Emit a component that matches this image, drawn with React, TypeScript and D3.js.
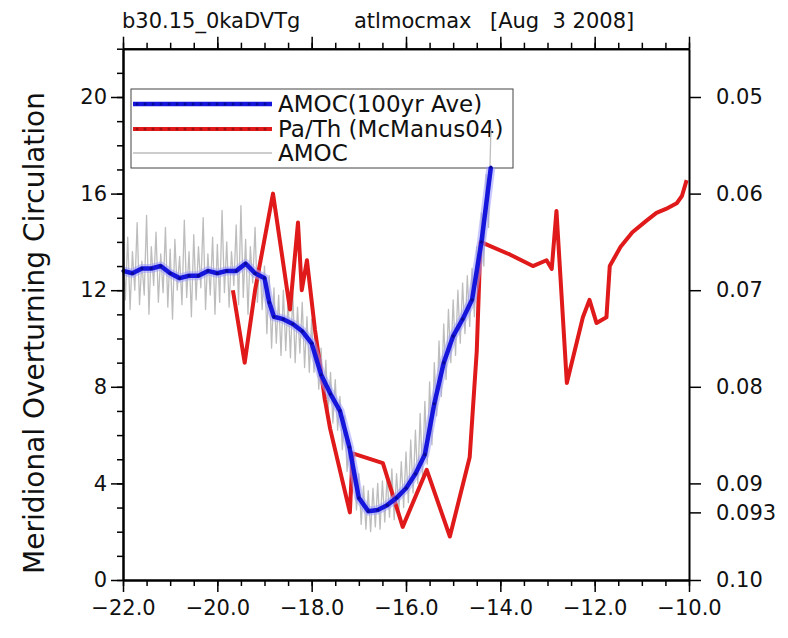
import { useEffect, useRef } from 'react';
import * as d3 from 'd3';

// Chart header
const titleParts = ['b30.15_0kaDVTg', 'atlmocmax', '[Aug  3 2008]'];
const yLabel = 'Meridional Overturning Circulation';

// Axis ticks
const xMajorTicks = [-22, -20, -18, -16, -14, -12, -10];
const xMinorTicks = d3.range(-22, -9.99, 0.5);
const leftMajorTicks = [0, 4, 8, 12, 16, 20];
const leftMinorTicks = d3.range(0, 22.01, 1);
const rightTicks = [0.05, 0.06, 0.07, 0.08, 0.09, 0.093, 0.1];
const rightTickLabels = ['0.05', '0.06', '0.07', '0.08', '0.09', '0.093', '0.10'];

// AMOC, 100yr average (ka BP, Sv)
const blueTime = [
  -22.0, -21.8, -21.6, -21.4, -21.2, -21.0, -20.8, -20.6, -20.4, -20.2,
  -20.0, -19.8, -19.6, -19.4, -19.2, -19.0, -18.9, -18.8, -18.6, -18.4,
  -18.2, -18.0, -17.8, -17.6, -17.4, -17.2, -17.0, -16.8, -16.6, -16.4,
  -16.2, -16.0, -15.8, -15.6, -15.4, -15.2, -15.0, -14.8, -14.6, -14.4, -14.2,
];
const blueAmoc = [
  12.8, 12.7, 12.9, 12.9, 13.0, 12.7, 12.5, 12.6, 12.6, 12.8,
  12.7, 12.8, 12.8, 13.1, 12.7, 12.5, 11.5, 10.9, 10.8, 10.6,
  10.3, 9.8, 8.5, 7.7, 7.0, 5.5, 3.4, 2.85, 2.9, 3.1,
  3.4, 3.8, 4.4, 5.2, 7.3, 9.0, 10.1, 10.8, 11.6, 14.0, 17.1,
];

// Pa/Th (McManus04), right axis
const redTime = [
  -19.67, -19.42, -19.2, -18.82, -18.46, -18.29, -18.21, -18.1, -17.93, -17.72,
  -17.61, -17.19, -17.13, -16.49, -16.07, -15.56, -15.07, -14.65, -14.5, -14.42,
  -13.8, -13.31, -13.02, -12.91, -12.81, -12.59, -12.25, -12.11, -11.96, -11.75,
  -11.68, -11.45, -11.2, -10.9, -10.69, -10.45, -10.26, -10.15, -10.05,
];
const redPaTh = [
  0.07, 0.0775, 0.07, 0.06, 0.072, 0.063, 0.07, 0.0669, 0.0741, 0.0813,
  0.0843, 0.093, 0.0869, 0.0879, 0.0945, 0.0886, 0.0955, 0.0873, 0.0763, 0.065,
  0.0663, 0.0675, 0.0669, 0.0678, 0.0618, 0.0796, 0.0728, 0.071, 0.0734, 0.0728,
  0.0675, 0.0655, 0.064, 0.0628, 0.062, 0.0615, 0.061, 0.06025, 0.0586,
];

// AMOC, annual (gray), every 0.05 ka from -22.0
const amocStart = -22;
const amocStep = 0.05;
const amocAnnual = [
  13.9, 11.6, 14.2, 11.2, 13.6, 12.0, 14.8, 11.4, 13.2, 11.8,
  15.1, 11.0, 13.8, 12.2, 14.4, 11.5, 13.5, 11.9, 14.6, 11.3,
  13.7, 10.8, 14.1, 12.0, 13.4, 11.4, 14.9, 11.7, 13.6, 10.9,
  14.3, 11.6, 13.8, 12.1, 15.0, 11.2, 13.5, 11.8, 14.2, 11.0,
  13.9, 11.5, 15.3, 11.9, 14.0, 11.3, 13.6, 12.2, 14.7, 11.4,
  15.5, 11.7, 14.1, 11.0, 13.8, 12.3, 14.6, 11.5, 13.4, 11.2,
  13.0, 10.2, 12.6, 9.6, 12.1, 9.8, 11.8, 9.3, 12.0, 9.5,
  11.6, 9.2, 11.9, 9.0, 11.3, 9.4, 11.5, 8.8, 10.9, 8.6,
  10.8, 8.6, 10.2, 7.9, 9.6, 7.4, 9.1, 7.0, 8.6, 6.5,
  8.3, 6.2, 7.6, 5.4, 6.8, 4.5, 5.6, 3.6, 4.7, 2.9,
  4.4, 2.3, 3.9, 2.1, 3.7, 2.0, 3.8, 2.2, 4.0, 2.1,
  4.1, 2.4, 4.3, 2.6, 4.6, 2.5, 4.4, 2.9, 4.9, 3.0,
  5.3, 3.2, 5.8, 3.6, 6.2, 4.0, 6.9, 4.3, 7.4, 4.8,
  8.2, 5.6, 9.0, 6.8, 9.9, 7.6, 10.6, 8.3, 11.2, 9.0,
  11.6, 9.3, 12.0, 9.8, 12.3, 10.2, 12.6, 10.5, 12.9, 10.9,
  13.8, 11.8, 15.2, 13.0, 16.8, 14.6, 18.7,
];

const legendItems = ['AMOC(100yr Ave)', 'Pa/Th (McManus04)', 'AMOC'];

const BLUE = '#1515dc';
const RED = '#e01a1a';
const GRAY = '#bdbdbd';
const FONT = '"DejaVu Sans", sans-serif';

export default function App() {
  const svgRef = useRef<SVGSVGElement | null>(null);

  useEffect(() => {
    if (!svgRef.current) return;
    const svg = d3.select(svgRef.current);
    svg.selectAll('*').remove();

    const plot = { left: 123, right: 689, top: 48.7, bottom: 580 };

    const x = d3.scaleLinear().domain([-22, -10]).range([plot.left, plot.right]);
    const y = d3.scaleLinear().domain([0, 22]).range([plot.bottom, plot.top]);
    const yR = d3.scaleLinear().domain([0.1, 0.045]).range([plot.bottom, plot.top]);

    svg.append('rect').attr('width', 788).attr('height', 638).attr('fill', '#fff');

    // Legend (drawn first, the curves pass over it)
    const lg = svg.append('g');
    lg.append('rect')
      .attr('x', 131).attr('y', 89).attr('width', 382).attr('height', 79)
      .attr('fill', 'none').attr('stroke', '#444').attr('stroke-width', 1);
    const rowY = [104, 129, 153];
    const legendColors = [BLUE, RED, GRAY];
    const legendWidths = [4.5, 4, 1.3];
    legendItems.forEach((label, i) => {
      lg.append('line')
        .attr('x1', 133).attr('x2', 272)
        .attr('y1', rowY[i]).attr('y2', rowY[i])
        .attr('stroke', legendColors[i])
        .attr('stroke-width', legendWidths[i]);
      if (i < 2) {
        lg.selectAll(`circle.b${i}`)
          .data(d3.range(137, 272, 8))
          .enter()
          .append('circle')
          .attr('class', `b${i}`)
          .attr('cx', d => d)
          .attr('cy', rowY[i])
          .attr('r', 1.5)
          .attr('fill', i === 0 ? '#0a0a9a' : '#a01010');
      }
      lg.append('text')
        .attr('x', 278)
        .attr('y', rowY[i] + 8)
        .style('font-family', FONT)
        .style('font-size', '23px')
        .attr('fill', '#111')
        .text(label);
    });

    // Gray annual AMOC
    const line = d3.line<[number, number]>().x(d => d[0]).y(d => d[1]);
    const grayPts: [number, number][] = amocAnnual.map((v, i) => [x(amocStart + i * amocStep), y(v)]);
    svg.append('path')
      .attr('d', line(grayPts))
      .attr('fill', 'none')
      .attr('stroke', GRAY)
      .attr('stroke-width', 1.3)
      .attr('stroke-linejoin', 'round');

    // Pa/Th
    const redPts: [number, number][] = redTime.map((t, i) => [x(t), yR(redPaTh[i])]);
    svg.append('path')
      .attr('d', line(redPts))
      .attr('fill', 'none')
      .attr('stroke', RED)
      .attr('stroke-width', 4)
      .attr('stroke-linejoin', 'round');

    // AMOC 100yr ave, with light halo
    const bluePts: [number, number][] = blueTime.map((t, i) => [x(t), y(blueAmoc[i])]);
    svg.append('path')
      .attr('d', line(bluePts))
      .attr('fill', 'none')
      .attr('stroke', '#9a9aff')
      .attr('stroke-opacity', 0.55)
      .attr('stroke-width', 9)
      .attr('stroke-linejoin', 'round');
    svg.append('path')
      .attr('d', line(bluePts))
      .attr('fill', 'none')
      .attr('stroke', BLUE)
      .attr('stroke-width', 4.5)
      .attr('stroke-linejoin', 'round');
    svg.append('g')
      .selectAll('circle')
      .data(bluePts)
      .enter()
      .append('circle')
      .attr('cx', d => d[0])
      .attr('cy', d => d[1])
      .attr('r', 1.6)
      .attr('fill', '#0a0a9a');

    // Axes
    const styleAxis = (g: any) => {
      g.select('.domain').attr('stroke-width', 2);
      g.selectAll('.tick line').attr('stroke-width', 1.5);
      g.selectAll('text').style('font-family', FONT).style('font-size', '21px').attr('fill', '#111');
    };

    svg.append('g')
      .attr('transform', `translate(${plot.left},0)`)
      .call(d3.axisLeft(y).tickValues(leftMinorTicks).tickSize(6).tickSizeOuter(0).tickFormat(() => ''))
      .call(styleAxis);
    svg.append('g')
      .attr('transform', `translate(${plot.left},0)`)
      .call(d3.axisLeft(y).tickValues(leftMajorTicks).tickSize(12).tickSizeOuter(0).tickPadding(4).tickFormat(d3.format('d')))
      .call(styleAxis);

    svg.append('g')
      .attr('transform', `translate(${plot.right},0)`)
      .call(d3.axisRight(yR).tickValues(rightTicks).tickSize(12).tickSizeOuter(0).tickPadding(15)
        .tickFormat((d, i) => rightTickLabels[i]))
      .call(styleAxis);

    svg.append('g')
      .attr('transform', `translate(0,${plot.bottom})`)
      .call(d3.axisBottom(x).tickValues(xMinorTicks).tickSize(6).tickSizeOuter(0).tickFormat(() => ''))
      .call(styleAxis);
    svg.append('g')
      .attr('transform', `translate(0,${plot.bottom})`)
      .call(d3.axisBottom(x).tickValues(xMajorTicks).tickSize(12).tickSizeOuter(0).tickPadding(8).tickFormat(d3.format('.1f')))
      .call(styleAxis);

    svg.append('g')
      .attr('transform', `translate(0,${plot.top})`)
      .call(d3.axisTop(x).tickValues(xMinorTicks).tickSize(6).tickSizeOuter(0).tickFormat(() => ''))
      .call(styleAxis);
    svg.append('g')
      .attr('transform', `translate(0,${plot.top})`)
      .call(d3.axisTop(x).tickValues(xMajorTicks).tickSize(12).tickSizeOuter(0).tickFormat(() => ''))
      .call(styleAxis);

    // Title
    const titleX = [122, 354, 490];
    titleParts.forEach((t, i) => {
      svg.append('text')
        .attr('x', titleX[i])
        .attr('y', 28)
        .style('font-family', FONT)
        .style('font-size', '21px')
        .style('white-space', 'pre')
        .attr('fill', '#111')
        .text(t);
    });

    // Y label
    svg.append('text')
      .attr('transform', `translate(44,333) rotate(-90)`)
      .attr('text-anchor', 'middle')
      .style('font-family', FONT)
      .style('font-size', '28px')
      .attr('fill', '#111')
      .text(yLabel);
  }, []);

  return (
    <svg
      ref={svgRef}
      width={788}
      height={638}
      style={{ position: 'absolute', left: 0, top: 0 }}
    />
  );
}
